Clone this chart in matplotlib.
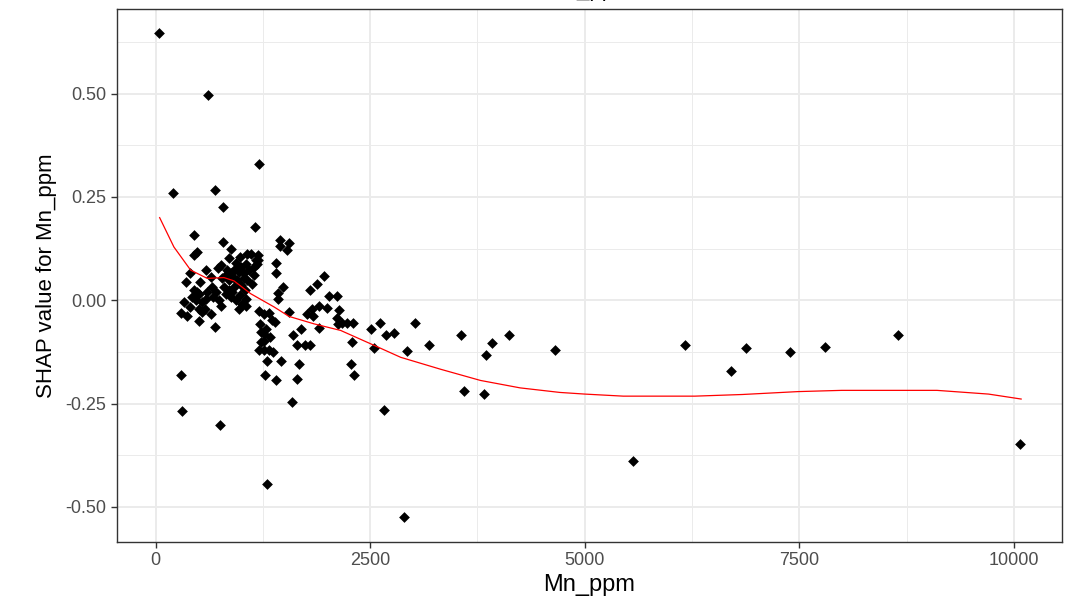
import numpy as np
import matplotlib
matplotlib.use("Agg")
import matplotlib.pyplot as plt

plt.rcParams['font.family'] = ['Liberation Sans', 'DejaVu Sans']

# Mn_ppm value / SHAP value
mn_ppm = [35, 606, 206, 688, 789, 447, 789, 882, 447, 478, 850, 983, 1068, 1107, 1192,
          1166, 1192, 726, 583, 400, 350, 517, 649, 835, 874, 816, 777, 913, 952, 854,
          1029, 1087, 1146, 1029, 1068, 1127, 971, 1146, 1185, 1049, 991, 1037, 983, 1049,
          1010, 796, 854, 913, 816, 874, 894, 661, 699, 602, 672, 583, 544, 486, 447, 505,
          427, 466, 330, 400, 505, 571, 758, 641, 544, 688, 971, 1049, 299, 369, 505, 738,
          932, 920, 1000, 760, 940, 291, 303, 746,
          1204, 1160, 1449, 1554, 1449, 1535, 1399, 1399, 1488, 1425, 1425, 1554,
          1204, 1263, 1321, 1216, 1282, 1360, 1387, 1224, 1263, 1333, 1231, 1263, 1204,
          1263, 1321, 1372, 1302, 1457, 1270, 1399, 1593, 1294,
          1799, 1876, 1965, 2020, 2110, 1760, 1838, 1826, 1904, 1993, 2137, 2110, 2125,
          2176, 2234, 2304, 1904, 1604, 1698, 1643, 1736, 1799, 1670, 1643, 2288, 2273,
          2312, 2514, 2615, 2681, 2778, 2545, 2661, 2934, 3019, 3186, 2894,
          3562, 3594, 3827, 3854, 3916, 4118, 4649, 5556, 6166, 6698, 6879, 7396, 7798,
          8654, 10070]
shap = [0.648, 0.498, 0.260, 0.268, 0.225, 0.158, 0.142, 0.125, 0.109, 0.117, 0.103, 0.104,
        0.112, 0.112, 0.109, 0.097, 0.097, 0.077, 0.073, 0.065, 0.044, 0.044, 0.057, 0.073,
        0.065, 0.061, 0.053, 0.053, 0.049, 0.049, 0.065, 0.073, 0.061, 0.053, 0.049, 0.040,
        0.069, 0.081, 0.089, 0.089, 0.036, 0.024, 0.012, 0.004, -0.008, 0.032, 0.024, 0.032,
        0.016, 0.008, 0.020, 0.032, 0.020, 0.020, 0.008, 0.004, -0.004, 0.020, 0.024, 0.016,
        0.008, 0.000, -0.004, -0.016, -0.020, -0.020, -0.015, -0.032, -0.028, -0.065, -0.020,
        -0.015, -0.031, -0.039, -0.050, 0.000, 0.000, 0.075, 0.080, 0.085, 0.090, -0.182,
        -0.269, -0.303,
        0.330, 0.178, 0.147, 0.139, 0.131, 0.121, 0.091, 0.066, 0.031, 0.018, 0.002, -0.028,
        -0.026, -0.032, -0.031, -0.057, -0.069, -0.047, -0.053, -0.077, -0.081, -0.089,
        -0.101, -0.099, -0.121, -0.121, -0.121, -0.125, -0.147, -0.147, -0.180, -0.193,
        -0.247, -0.445,
        0.026, 0.039, 0.058, 0.010, 0.010, -0.034, -0.039, -0.020, -0.015, -0.018, -0.023,
        -0.042, -0.058, -0.055, -0.055, -0.055, -0.066, -0.085, -0.069, -0.109, -0.109,
        -0.107, -0.155, -0.190, -0.102, -0.155, -0.180, -0.069, -0.055, -0.083, -0.079,
        -0.115, -0.265, -0.123, -0.055, -0.109, -0.524,
        -0.085, -0.220, -0.228, -0.133, -0.104, -0.083, -0.121, -0.390, -0.108, -0.172,
        -0.115, -0.124, -0.112, -0.083, -0.348]

# smoothed trend (red line)
fit_x = [47, 213, 408, 602, 796, 913, 1107, 1379, 1554, 1845, 2156, 2545, 2855, 3322,
         3785, 4247, 4709, 5000, 5449, 6282, 6837, 7483, 7993, 9103, 9704, 10084]
fit_y = [0.200, 0.129, 0.073, 0.053, 0.055, 0.047, 0.016, -0.016, -0.039, -0.057, -0.073,
         -0.109, -0.138, -0.167, -0.194, -0.212, -0.223, -0.227, -0.232, -0.232, -0.228,
         -0.221, -0.218, -0.218, -0.227, -0.239]

x_ticks = [0, 2500, 5000, 7500, 10000]
y_ticks = [-0.5, -0.25, 0, 0.25, 0.5]

fig = plt.figure(figsize=(10.72, 6.02), dpi=100)
ax = fig.add_axes([117 / 1072, 1 - 542 / 602, (1062 - 117) / 1072, (542 - 9) / 602])

ax.scatter(mn_ppm, shap, s=30, marker='D', color='black', linewidths=0, zorder=3)
ax.plot(fit_x, fit_y, color='red', linewidth=0.9, zorder=4)

ax.set_xlim(-450, 10560)
ax.set_ylim(-0.585, 0.705)
ax.set_xticks(x_ticks)
ax.set_xticklabels([str(t) for t in x_ticks])
ax.set_xticks([1250, 3750, 6250, 8750], minor=True)
ax.set_yticks(y_ticks)
ax.set_yticklabels(['%.2f' % t for t in y_ticks])
ax.set_yticks([-0.375, -0.125, 0.125, 0.375, 0.625], minor=True)

ax.grid(which='major', color='#EBEBEB', linewidth=1.4, zorder=0)
ax.grid(which='minor', color='#EBEBEB', linewidth=0.7, zorder=0)
ax.set_axisbelow(True)
for sp in ax.spines.values():
    sp.set_color('#333333')
    sp.set_linewidth(1.0)
ax.tick_params(which='major', length=4, width=1, color='#333333',
               labelcolor='#4D4D4D', labelsize=13)
ax.tick_params(which='minor', length=0)

ax.set_xlabel('Mn_ppm', fontsize=17, labelpad=3)
ax.set_ylabel('SHAP value for Mn_ppm', fontsize=16, labelpad=6)

# title, mostly cut off at the top edge
fig.text(0.55, 1.0 + 4 / 602, 'Mn_ppm', fontsize=16, ha='center', va='baseline')

fig.savefig('out.png', dpi=100)
